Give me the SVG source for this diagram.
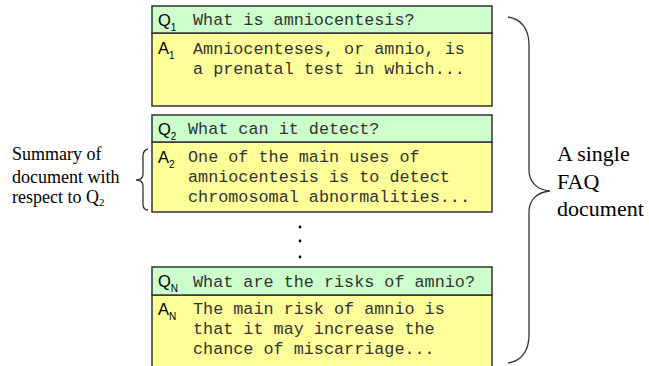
<svg xmlns="http://www.w3.org/2000/svg" width="649" height="366" viewBox="0 0 649 366">
<style>
.q{fill:#CCFFCC;stroke:#333;stroke-width:1.5}
.a{fill:#FFFF99;stroke:#333;stroke-width:1.5}
.lab{font-family:"Liberation Sans",Arial,sans-serif;font-size:16.5px;fill:#000}
.sub{font-family:"Liberation Sans",Arial,sans-serif;font-size:10px;fill:#000}
.mono{font-family:"Liberation Mono","Courier New",monospace;font-size:16.8px;fill:#333}
.serif{font-family:"Liberation Serif","Times New Roman",serif;fill:#000}
.brace{fill:none;stroke:#333;stroke-width:1.3}
</style>
<rect width="649" height="366" fill="#fff"/>
<g id="faq1">
<rect class="a" x="152" y="33" width="340" height="73"/>
<rect class="q" x="152" y="6" width="340" height="27"/>
<text class="lab" x="158" y="26">Q<tspan class="sub" dy="5">1</tspan></text>
<text class="mono" x="193" y="25">What is amniocentesis?</text>
<text class="lab" x="158" y="54">A<tspan class="sub" dy="5">1</tspan></text>
<text class="mono" x="193" y="54">Amniocenteses, or amnio, is</text>
<text class="mono" x="193" y="74">a prenatal test in which...</text>
</g>
<g id="faq2">
<rect class="a" x="152" y="142" width="340" height="70"/>
<rect class="q" x="152" y="115" width="340" height="27"/>
<text class="lab" x="158" y="135">Q<tspan class="sub" dy="5">2</tspan></text>
<text class="mono" x="188" y="134">What can it detect?</text>
<text class="lab" x="158" y="163">A<tspan class="sub" dy="5">2</tspan></text>
<text class="mono" x="188" y="162">One of the main uses of</text>
<text class="mono" x="188" y="182">amniocentesis is to detect</text>
<text class="mono" x="188" y="202">chromosomal abnormalities...</text>
</g>
<g id="ellipsis">
<circle cx="300" cy="227" r="1.4" fill="#000"/>
<circle cx="300" cy="241" r="1.4" fill="#000"/>
<circle cx="300" cy="257" r="1.4" fill="#000"/>
</g>
<g id="faqN">
<rect class="a" x="152" y="295" width="340" height="80"/>
<rect class="q" x="152" y="267" width="340" height="28"/>
<text class="lab" x="158" y="287">Q<tspan class="sub" dy="5">N</tspan></text>
<text class="mono" x="193" y="287">What are the risks of amnio?</text>
<text class="lab" x="158" y="315">A<tspan class="sub" dy="5">N</tspan></text>
<text class="mono" x="193" y="314">The main risk of amnio is</text>
<text class="mono" x="193" y="334">that it may increase the</text>
<text class="mono" x="193" y="354">chance of miscarriage...</text>
</g>
<g id="braces">
<path class="brace" d="M508,17 C522,19 529,30 529,45 L529,170 C529,182 537,190 550,191 C537,192 529,200 529,212 L529,335 C529,350 522,361 508,363"/>
<path class="brace" d="M148,149 C144,150 143,152 143,156 L143,174 C143,178 140,180 136,180 C140,180 143,182 143,186 L143,204 C143,208 144,210 148,210"/>
</g>
<g id="summary-label">
<text class="serif" font-size="18" x="12" y="160">Summary of</text>
<text class="serif" font-size="18" x="12" y="183">document with</text>
<text class="serif" font-size="18" x="12" y="203">respect to Q<tspan font-size="11" dy="3">2</tspan></text>
</g>
<g id="doc-label">
<text class="serif" font-size="22" x="557" y="161">A single</text>
<text class="serif" font-size="22" x="557" y="189">FAQ</text>
<text class="serif" font-size="22" x="557" y="216">document</text>
</g>
</svg>
